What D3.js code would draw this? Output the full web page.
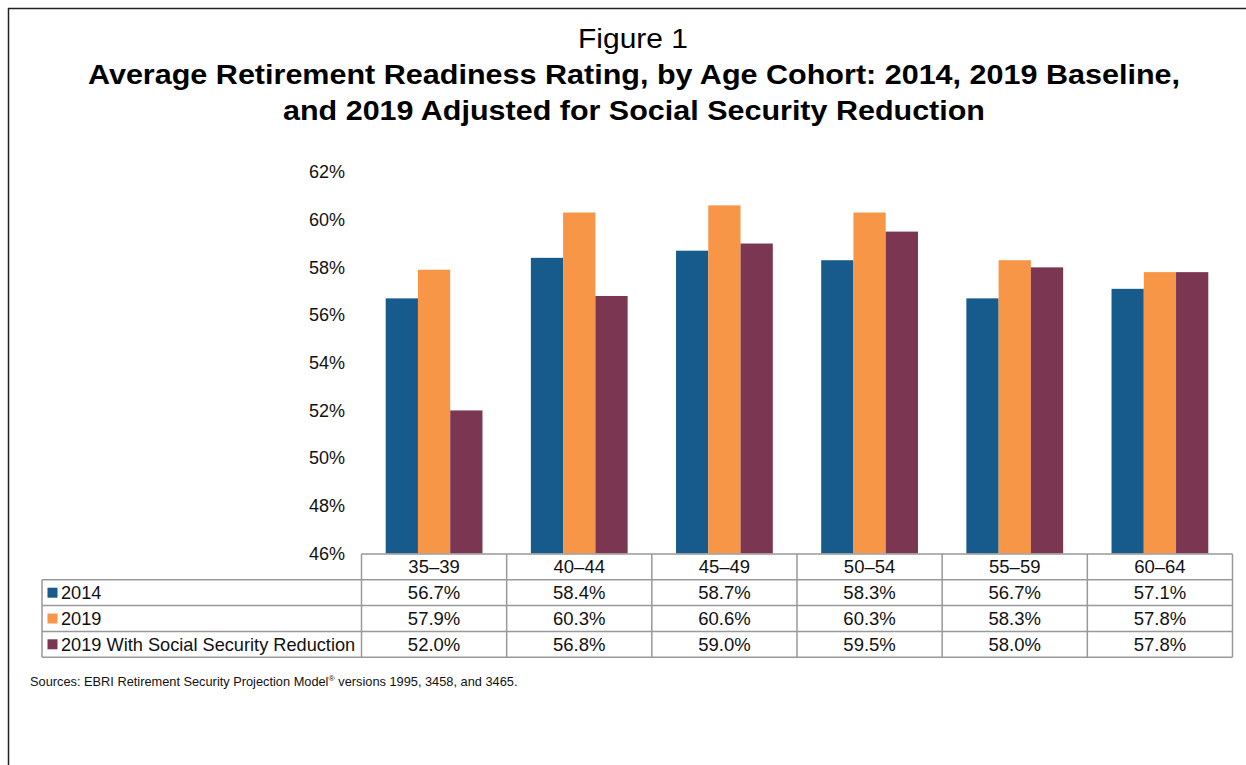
<!DOCTYPE html>
<html><head><meta charset="utf-8">
<script src="https://cdn.jsdelivr.net/npm/d3@7"></script>
<style>body{margin:0;background:#fff;} svg{display:block;font-family:"Liberation Sans",Arial,sans-serif;}</style>
</head><body>
<svg id="c" width="1246" height="765"></svg>
<script>
const categories = ["35\u201339","40\u201344","45\u201349","50\u201354","55\u201359","60\u201364"];
const seriesNames = ["2014","2019","2019 With Social Security Reduction"];
const values2014 = [56.7,58.4,58.7,58.3,56.7,57.1];
const values2019 = [57.9,60.3,60.6,60.3,58.3,57.8];
const values2019SS = [52.0,56.8,59.0,59.5,58.0,57.8];
const colors = ["#175b8c","#f79646","#7b3652"];
const yTicks = [46,48,50,52,54,56,58,60,62];

const seriesValues = [values2014, values2019, values2019SS];
const svg = d3.select("#c");

// frame (top and left lines)
svg.append("line").attr("x1",8).attr("x2",1246).attr("y1",8.5).attr("y2",8.5).attr("stroke","#222").attr("stroke-width",1.5);
svg.append("line").attr("x1",8.5).attr("x2",8.5).attr("y1",8).attr("y2",765).attr("stroke","#222").attr("stroke-width",1.5);

// titles
svg.append("text").attr("x",578).attr("y",48).attr("font-size",27)
  .attr("textLength",110).attr("lengthAdjust","spacingAndGlyphs").text("Figure 1");
svg.append("text").attr("x",88).attr("y",84).attr("font-size",27).attr("font-weight","bold")
  .attr("textLength",1092).attr("lengthAdjust","spacingAndGlyphs")
  .text("Average Retirement Readiness Rating, by Age Cohort: 2014, 2019 Baseline,");
svg.append("text").attr("x",283).attr("y",120).attr("font-size",27).attr("font-weight","bold")
  .attr("textLength",702).attr("lengthAdjust","spacingAndGlyphs")
  .text("and 2019 Adjusted for Social Security Reduction");

// scales
const x0 = d3.scaleBand().domain(categories).range([361.5,1232.5]).padding(0);
const bw = x0.bandwidth();
const x1 = d3.scaleBand().domain(seriesNames).range([bw/6, bw*5/6]).padding(0);
const y = d3.scaleLinear().domain([46,62]).range([553.5,172]);

// y axis
const yAxis = d3.axisLeft(y).tickValues(yTicks).tickSize(0).tickPadding(0).tickFormat(d => d + "%");
const ya = svg.append("g").attr("transform","translate(345,0)").call(yAxis);
ya.select(".domain").remove();
ya.selectAll("text").attr("font-size",18).attr("fill","#111").attr("font-family","Liberation Sans, Arial, sans-serif");

// bars
const groups = svg.append("g").selectAll("g").data(categories).join("g")
  .attr("transform", c => `translate(${x0(c)},0)`);
groups.selectAll("rect").data((c,i) => seriesNames.map((s,j) => ({s, j, v: seriesValues[j][i]})))
  .join("rect")
  .attr("x", d => x1(d.s)).attr("width", x1.bandwidth())
  .attr("y", d => y(d.v)).attr("height", d => y(46) - y(d.v))
  .attr("fill", d => colors[d.j]);

// data table
const grid = "#999";
const rowTop = 554, rowH = 25.8;
const tableLeft = 42;
const fs = 18.5;
const tg = svg.append("g");
tg.append("line").attr("x1",x0.range()[0]).attr("x2",x0.range()[1]).attr("y1",rowTop).attr("y2",rowTop).attr("stroke",grid).attr("stroke-width",1.5);
for (let r=1;r<=4;r++){
  tg.append("line").attr("x1",tableLeft).attr("x2",x0.range()[1]).attr("y1",rowTop+r*rowH).attr("y2",rowTop+r*rowH).attr("stroke",grid).attr("stroke-width",1.5);
}
const edges = categories.map(c => x0(c)).concat([x0.range()[1]]);
edges.forEach(e => tg.append("line").attr("x1",e).attr("x2",e).attr("y1",rowTop).attr("y2",rowTop+4*rowH).attr("stroke",grid).attr("stroke-width",1.5));
tg.append("line").attr("x1",tableLeft).attr("x2",tableLeft).attr("y1",rowTop+rowH).attr("y2",rowTop+4*rowH).attr("stroke",grid).attr("stroke-width",1.5);

tg.selectAll("text.cat").data(categories).join("text").attr("class","cat")
  .attr("x", c => x0(c)+bw/2).attr("y", rowTop+rowH/2+6.5).attr("text-anchor","middle").attr("font-size",fs).attr("fill","#111").text(c=>c);
seriesNames.forEach((s,j) => {
  const yy = rowTop + (j+1)*rowH;
  tg.append("rect").attr("x",47.5).attr("y",yy+rowH/2-5).attr("width",10).attr("height",10).attr("fill",colors[j]);
  tg.append("text").attr("x",61).attr("y",yy+rowH/2+6.5).attr("font-size",18.2).attr("fill","#111").text(s);
  tg.selectAll(null).data(categories).join("text")
    .attr("x", c => x0(c)+bw/2).attr("y", yy+rowH/2+6.5).attr("text-anchor","middle").attr("font-size",fs).attr("fill","#111")
    .text((c,i) => seriesValues[j][i].toFixed(1) + "%");
});

// source
const src = svg.append("text").attr("transform","translate(30,686) scale(1.067,1)").attr("font-size",12).attr("fill","#111");
src.append("tspan").text("Sources: EBRI Retirement Security Projection Model");
src.append("tspan").attr("font-size",8).attr("dy",-5).text("\u00AE");
src.append("tspan").attr("dy",5).text(" versions 1995, 3458, and 3465.");
</script>
</body></html>
